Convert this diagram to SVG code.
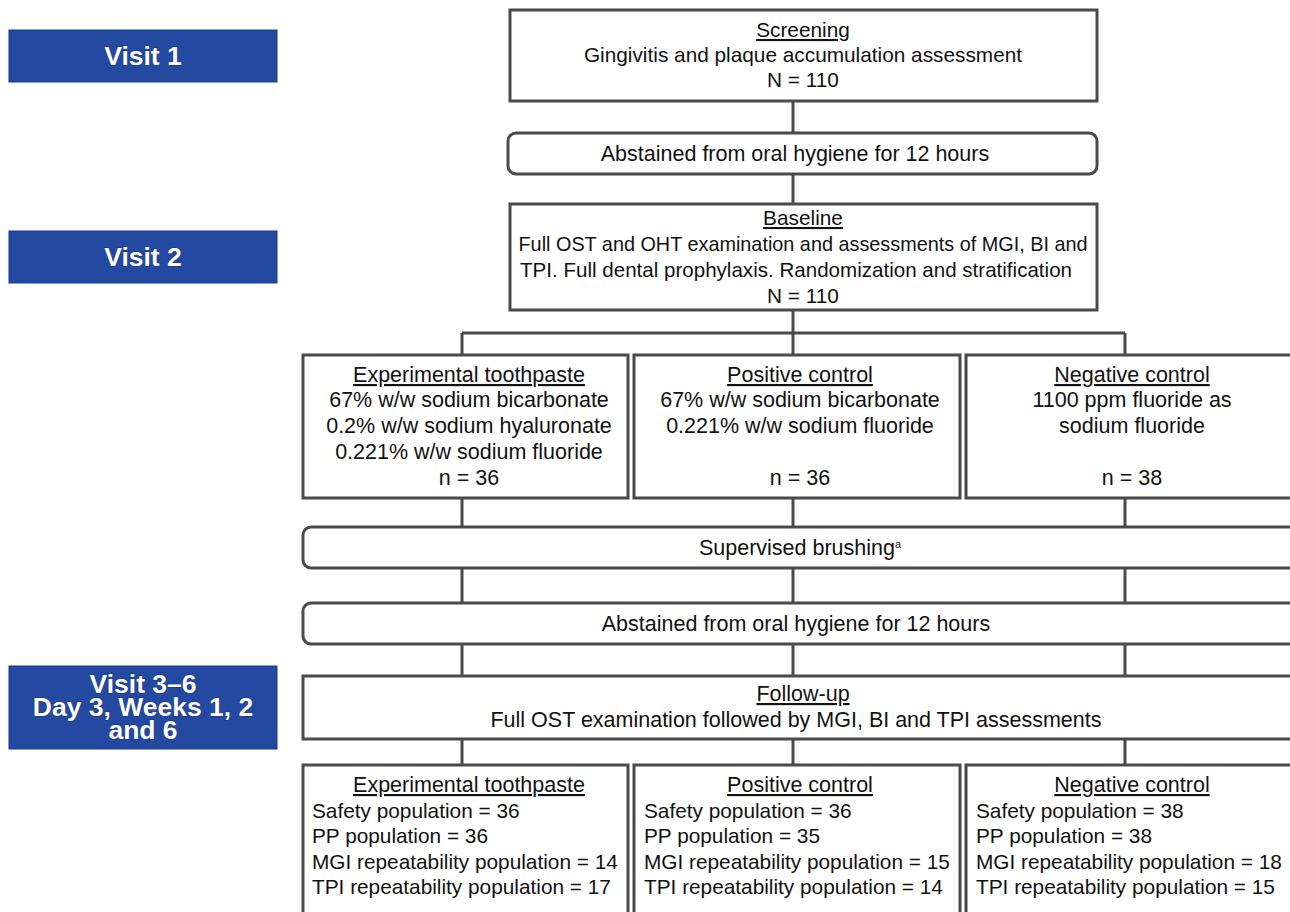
<svg xmlns="http://www.w3.org/2000/svg" width="1290" height="912" viewBox="0 0 1290 912">
<style>
.box{fill:#fff;stroke:#4a4a4a;stroke-width:3}
.ln{stroke:#4a4a4a;stroke-width:3;fill:none}
.vis{fill:#2349a0;stroke:#1c3a8a;stroke-width:1}
.vt{font-family:"Liberation Sans",Arial,sans-serif;font-size:26.5px;font-weight:bold;fill:#fff;stroke:#1a2f7a;stroke-width:0.8;paint-order:stroke;text-anchor:middle}
.t{font-family:"Liberation Sans",Arial,sans-serif;font-size:20.8px;fill:#111;text-anchor:middle}
.m{font-size:21.5px}
.tl{font-family:"Liberation Sans",Arial,sans-serif;font-size:20.8px;fill:#111}
.u{text-decoration:underline}
</style>
<rect width="1290" height="912" fill="#fff"/>
<g id="visit1"><rect class="vis" x="9" y="30" width="268" height="52"/><text class="vt" x="143" y="65">Visit 1</text></g>
<g id="visit2"><rect class="vis" x="9" y="231" width="268" height="52"/><text class="vt" x="143" y="266">Visit 2</text></g>
<g id="visit3"><rect class="vis" x="9" y="666" width="268" height="83"/><text class="vt" x="143" y="693">Visit 3–6</text><text class="vt" x="143" y="716">Day 3, Weeks 1, 2</text><text class="vt" x="143" y="739">and 6</text></g>
<g id="connectors">
<path class="ln" d="M793 101V133M793 174V204M793 310V333M462 333H1125M462 333V355M1125 333V355M793 333V355"/>
<path class="ln" d="M462 498V527M793 498V527M1125 498V527M462 568V603M793 568V603M1125 568V603M462 644V676M793 644V676M1125 644V676M462 739V765M793 739V765M1125 739V765"/>
</g>
<g id="screening"><rect class="box" x="510" y="10" width="587" height="91"/>
<text class="t u" x="803" y="37">Screening</text>
<text class="t" x="803" y="62">Gingivitis and plaque accumulation assessment</text>
<text class="t" x="803" y="87">N = 110</text></g>
<g id="abstain1"><rect class="box" x="508" y="133" width="589" height="41" rx="8"/>
<text class="t m" x="795" y="161">Abstained from oral hygiene for 12 hours</text></g>
<g id="baseline"><rect class="box" x="510" y="204" width="587" height="106"/>
<text class="t u" x="803" y="225">Baseline</text>
<text class="t" x="803" y="251" textLength="569" lengthAdjust="spacingAndGlyphs">Full OST and OHT examination and assessments of MGI, BI and</text>
<text class="t" x="796" y="277" textLength="552" lengthAdjust="spacingAndGlyphs">TPI. Full dental prophylaxis. Randomization and stratification</text>
<text class="t" x="803" y="303">N = 110</text></g>
<g id="exp1"><rect class="box" x="303" y="355" width="325" height="143"/>
<text class="t m u" x="469" y="382">Experimental toothpaste</text>
<text class="t m" x="469" y="407">67% w/w sodium bicarbonate</text>
<text class="t m" x="469" y="433">0.2% w/w sodium hyaluronate</text>
<text class="t m" x="469" y="459">0.221% w/w sodium fluoride</text>
<text class="t m" x="469" y="485">n = 36</text></g>
<g id="pos1"><rect class="box" x="634" y="355" width="326" height="143"/>
<text class="t m u" x="800" y="382">Positive control</text>
<text class="t m" x="800" y="407">67% w/w sodium bicarbonate</text>
<text class="t m" x="800" y="433">0.221% w/w sodium fluoride</text>
<text class="t m" x="800" y="485">n = 36</text></g>
<g id="neg1"><rect class="box" x="966" y="355" width="332" height="143"/>
<text class="t m u" x="1132" y="382">Negative control</text>
<text class="t m" x="1132" y="407">1100 ppm fluoride as</text>
<text class="t m" x="1132" y="433">sodium fluoride</text>
<text class="t m" x="1132" y="485">n = 38</text></g>
<g id="brushing"><rect class="box" x="303" y="527" width="994" height="41" rx="8"/>
<text class="t m" x="800" y="555">Supervised brushing<tspan font-size="11" dy="-7">a</tspan></text></g>
<g id="abstain2"><rect class="box" x="303" y="603" width="994" height="41" rx="8"/>
<text class="t m" x="796" y="631">Abstained from oral hygiene for 12 hours</text></g>
<g id="followup"><rect class="box" x="303" y="676" width="994" height="63"/>
<text class="t m u" x="803" y="701">Follow-up</text>
<text class="t m" x="796" y="727">Full OST examination followed by MGI, BI and TPI assessments</text></g>
<g id="exp2"><rect class="box" x="303" y="765" width="325" height="160"/>
<text class="t m u" x="469" y="792">Experimental toothpaste</text>
<text class="tl" x="312" y="818">Safety population = 36</text>
<text class="tl" x="312" y="843">PP population = 36</text>
<text class="tl" x="312" y="869">MGI repeatability population = 14</text>
<text class="tl" x="312" y="894">TPI repeatability population = 17</text></g>
<g id="pos2"><rect class="box" x="634" y="765" width="326" height="160"/>
<text class="t m u" x="800" y="792">Positive control</text>
<text class="tl" x="644" y="818">Safety population = 36</text>
<text class="tl" x="644" y="843">PP population = 35</text>
<text class="tl" x="644" y="869">MGI repeatability population = 15</text>
<text class="tl" x="644" y="894">TPI repeatability population = 14</text></g>
<g id="neg2"><rect class="box" x="966" y="765" width="332" height="160"/>
<text class="t m u" x="1132" y="792">Negative control</text>
<text class="tl" x="976" y="818">Safety population = 38</text>
<text class="tl" x="976" y="843">PP population = 38</text>
<text class="tl" x="976" y="869">MGI repeatability population = 18</text>
<text class="tl" x="976" y="894">TPI repeatability population = 15</text></g>
</svg>
